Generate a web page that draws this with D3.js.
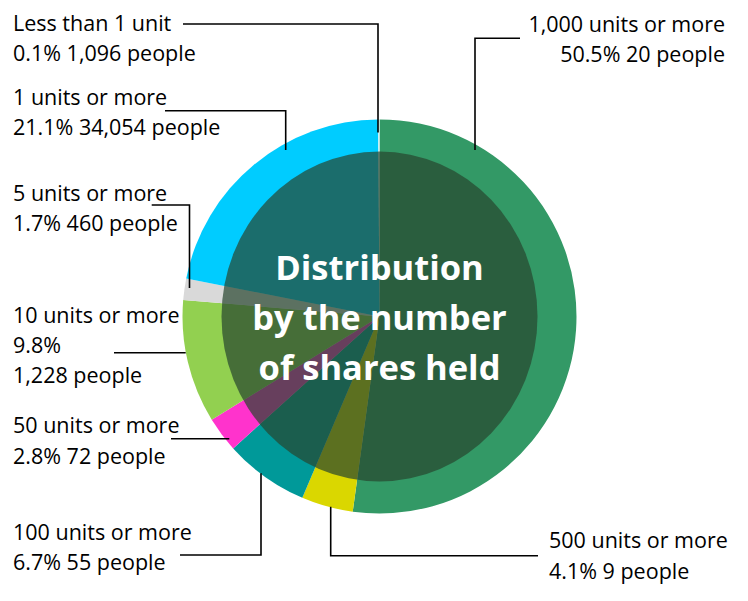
<!DOCTYPE html>
<html>
<head>
<meta charset="utf-8">
<script src="https://cdn.jsdelivr.net/npm/d3@7"></script>
<style>
  body { margin: 0; background: #fff; }
  svg { display: block; }
  text { font-family: "Open Sans", sans-serif; }
</style>
</head>
<body>
<svg id="chart" width="748" height="601"></svg>
<script>
// categories, clockwise from 12 o'clock
var categories = [
  "1,000 units or more", "500 units or more", "100 units or more",
  "50 units or more", "10 units or more", "5 units or more",
  "1 units or more", "Less than 1 unit"
];
var percents = [50.5, 4.1, 6.7, 2.8, 9.8, 1.7, 21.1, 0.1];
var people = ["20", "9", "55", "72", "1,228", "460", "34,054", "1,096"];
var colors = ["#339966", "#dad700", "#009999", "#ff33cc", "#92d050", "#d9d9d9", "#00ccff", "#d8f4f6"];
var titleLines = ["Distribution", "by the number", "of shares held"];

var width = 748, height = 601;
var cx = 379.5, cy = 316.5, outerR = 197;

// label placement: text anchor point, line break and leader polyline
var labelLayout = [
  {x: 725, y: 31.7, anchor: "end", split: 1, leader: [[520, 38.3], [475, 38.3], [475, 150]]},
  {x: 549, y: 548.3, anchor: "start", split: 1, leader: [[538, 555.7], [330.7, 555.7], [330.7, 506.7]]},
  {x: 13, y: 540, anchor: "start", split: 1, leader: [[180, 555], [261, 555], [261, 473.3]]},
  {x: 13, y: 433.3, anchor: "start", split: 1, leader: [[171, 438.7], [229.3, 438.7]]},
  {x: 13, y: 322.7, anchor: "start", split: 2, leader: [[114, 352.7], [185.7, 352.7]]},
  {x: 13, y: 200.7, anchor: "start", split: 1, leader: [[151.7, 205], [189.5, 205], [189.5, 288]]},
  {x: 13, y: 105, anchor: "start", split: 1, leader: [[165, 110.7], [285.7, 110.7], [285.7, 150]]},
  {x: 13, y: 31, anchor: "start", split: 1, leader: [[183, 24], [378, 24], [378, 132.5]]}
];

var svg = d3.select("#chart");

var pie = d3.pie().sort(null).value(function(d) { return d; });
var arc = d3.arc().innerRadius(0).outerRadius(outerR);

var g = svg.append("g").attr("transform", "translate(" + cx + "," + cy + ")");

g.selectAll("path.slice")
    .data(pie(percents))
    .enter().append("path")
    .attr("class", "slice")
    .attr("d", arc)
    .attr("fill", function(d, i) { return colors[i]; });

// darker see-through disc over the middle of the pie
g.append("ellipse")
    .attr("rx", 158)
    .attr("ry", 165)
    .attr("fill", "rgb(38,68,46)")
    .attr("fill-opacity", 0.7);

var title = g.append("text")
    .attr("text-anchor", "middle")
    .attr("fill", "#fff")
    .attr("font-weight", 700)
    .attr("font-size", 34.5);
titleLines.forEach(function(line, i) {
  title.append("tspan").attr("x", 0).attr("y", -36.5 + i * 50).text(line);
});

// leaders
var line = d3.line();
svg.selectAll("path.leader")
    .data(labelLayout)
    .enter().append("path")
    .attr("class", "leader")
    .attr("d", function(d) { return line(d.leader); })
    .attr("fill", "none")
    .attr("stroke", "#000")
    .attr("stroke-width", 1.6);

// labels
svg.selectAll("text.label")
    .data(categories)
    .enter().append("text")
    .attr("class", "label")
    .attr("font-size", 21.5)
    .attr("fill", "#000")
    .attr("text-anchor", function(d, i) { return labelLayout[i].anchor; })
    .each(function(d, i) {
      var lay = labelLayout[i];
      var lines = lay.split === 2
          ? [d, percents[i] + "%", people[i] + " people"]
          : [d, percents[i] + "% " + people[i] + " people"];
      var t = d3.select(this);
      lines.forEach(function(s, k) {
        t.append("tspan").attr("x", lay.x).attr("y", lay.y + k * 30.3).text(s);
      });
    });
</script>
</body>
</html>
